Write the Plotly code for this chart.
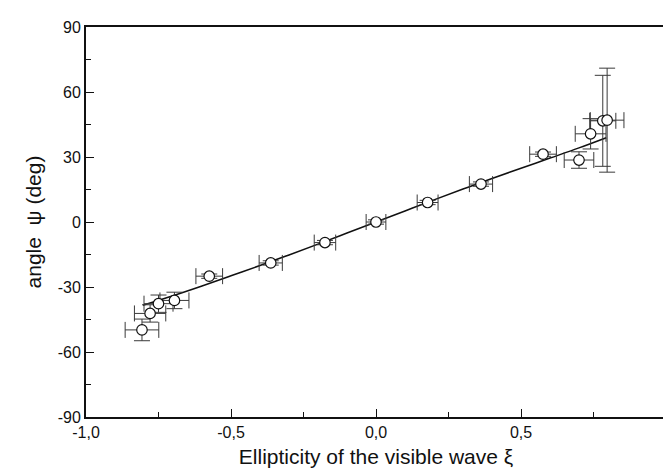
import plotly.graph_objects as go

# measured data points
xi = [-0.807, -0.779, -0.750, -0.695, -0.575, -0.363, -0.176, 0.0, 0.178, 0.362, 0.576, 0.700, 0.740, 0.782, 0.797]
psi = [-49.8, -42.2, -37.7, -36.2, -25.0, -18.9, -9.5, 0.0, 9.0, 17.5, 31.3, 28.6, 40.7, 46.7, 47.0]
xi_err = [0.058, 0.054, 0.05, 0.05, 0.046, 0.04, 0.037, 0.034, 0.036, 0.04, 0.046, 0.051, 0.053, 0.045, 0.058]
psi_err = [5.0, 4.0, 4.0, 3.8, 1.0, 1.0, 1.0, 1.0, 1.0, 1.0, 1.0, 3.8, 7.0, 21.0, 24.0]

# theoretical curve
curve_x = [-0.804, -0.70, -0.60, -0.50, -0.40, -0.30, -0.20, -0.10, 0.0, 0.10, 0.20, 0.30, 0.40, 0.50, 0.60, 0.70, 0.794]
curve_y = [-38.4, -34.0, -29.5, -24.8, -20.1, -15.2, -10.2, -5.1, 0.0, 5.1, 10.2, 15.2, 20.1, 24.8, 29.5, 34.2, 38.9]

x_ticks = [-1.0, -0.5, 0.0, 0.5]
x_ticklabels = ["-1,0", "-0,5", "0,0", "0,5"]
y_ticks = [-90, -60, -30, 0, 30, 60, 90]
y_ticklabels = ["-90", "-60", "-30", "0", "30", "60", "90"]

ink = "#111111"
fig = go.Figure()
fig.add_trace(go.Scatter(
    x=curve_x, y=curve_y, mode="lines", line=dict(color=ink, width=1.5, shape="spline"),
    showlegend=False, hoverinfo="skip"))
fig.add_trace(go.Scatter(
    x=xi, y=psi, mode="markers",
    marker=dict(symbol="circle", size=10.5, color="white", line=dict(color=ink, width=1.2)),
    error_x=dict(type="data", array=xi_err, visible=True, color="#3a3a3a", thickness=1, width=8),
    error_y=dict(type="data", array=psi_err, visible=True, color="#3a3a3a", thickness=1, width=8),
    showlegend=False))

font_family = "Liberation Sans, Arial, sans-serif"
fig.update_layout(
    width=671, height=470,
    margin=dict(l=78, r=11, t=11, b=61),
    paper_bgcolor="white", plot_bgcolor="white",
    font=dict(family=font_family, size=16, color=ink),
    xaxis=dict(
        range=[-1.0, 1.0], tickvals=x_ticks, ticktext=x_ticklabels,
        ticks="inside", ticklen=8, tickwidth=1.3, tickcolor=ink,
        minor=dict(dtick=0.25, tick0=0, ticks="inside", ticklen=5, tickwidth=1.2, tickcolor=ink),
        showline=True, linecolor=ink, linewidth=1.8, mirror=True,
        showgrid=False, zeroline=False,
        title=dict(text="Ellipticity of the visible wave ξ", font=dict(size=21, color=ink), standoff=9),
        tickfont=dict(size=16, color=ink)),
    yaxis=dict(
        range=[-90, 90], tickvals=y_ticks, ticktext=y_ticklabels,
        ticks="inside", ticklen=8, tickwidth=1.3, tickcolor=ink,
        minor=dict(dtick=15, tick0=0, ticks="inside", ticklen=5, tickwidth=1.2, tickcolor=ink),
        showline=True, linecolor=ink, linewidth=1.8, mirror=True,
        showgrid=False, zeroline=False,
        title=dict(text="angle  ψ (deg)", font=dict(size=21, color=ink), standoff=10),
        tickfont=dict(size=16, color=ink)),
)
fig.write_html("out.html")
